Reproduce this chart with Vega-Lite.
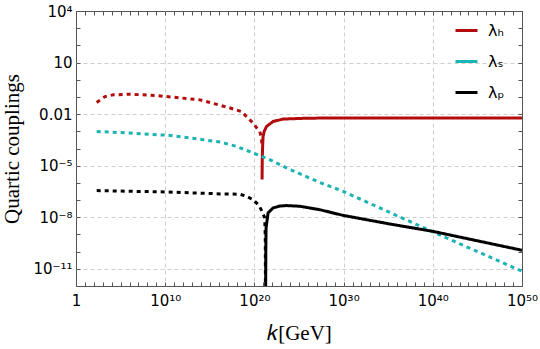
{
  "$schema": "https://vega.github.io/schema/vega-lite/v6.json",
  "width": 446,
  "height": 275,
  "autosize": {"type": "none"},
  "padding": {"left": 76, "top": 11, "right": 18, "bottom": 63},
  "background": "white",
  "config": {
    "view": {"stroke": "#555555", "strokeWidth": 1},
    "axis": {
      "domain": false,
      "tickColor": "#555555",
      "tickSize": -4,
      "tickWidth": 1,
      "labelFont": "DejaVu Sans",
      "labelFontSize": 15,
      "labelColor": "#000000",
      "labelOverlap": false,
      "labelFlush": false,
      "titleFont": "Liberation Serif",
      "titleFontSize": 21,
      "titleFontWeight": "normal",
      "titleColor": "#000000",
      "gridColor": "#cfcfcf",
      "gridDash": [4, 3],
      "gridWidth": 1
    }
  },
  "data": {
    "values": [
      {"series": "H", "seg": "Hd", "style": "dash", "k": 2.09e2, "v": 0.0479},
      {"series": "H", "seg": "Hd", "style": "dash", "k": 1.78e3, "v": 0.105},
      {"series": "H", "seg": "Hd", "style": "dash", "k": 1.51e4, "v": 0.132},
      {"series": "H", "seg": "Hd", "style": "dash", "k": 1.12e6, "v": 0.145},
      {"series": "H", "seg": "Hd", "style": "dash", "k": 1.10e9, "v": 0.120},
      {"series": "H", "seg": "Hd", "style": "dash", "k": 7.94e13, "v": 0.0676},
      {"series": "H", "seg": "Hd", "style": "dash", "k": 1.58e17, "v": 0.0234},
      {"series": "H", "seg": "Hd", "style": "dash", "k": 3.63e18, "v": 0.0141},
      {"series": "H", "seg": "Hd", "style": "dash", "k": 1.41e19, "v": 6.92e-3},
      {"series": "H", "seg": "Hd", "style": "dash", "k": 7.08e19, "v": 3.02e-3},
      {"series": "H", "seg": "Hd", "style": "dash", "k": 2.57e20, "v": 1.23e-3},
      {"series": "H", "seg": "Hd", "style": "dash", "k": 3.98e20, "v": 9.77e-4},
      {"series": "H", "seg": "Hd", "style": "dash", "k": 6.31e20, "v": 4.07e-4},
      {"series": "H", "seg": "Hd", "style": "dash", "k": 6.92e20, "v": 1.45e-4},
      {"series": "H", "seg": "Hs", "style": "solid", "k": 7.24e20, "v": 1.55e-6},
      {"series": "H", "seg": "Hs", "style": "solid", "k": 7.41e20, "v": 5.89e-6},
      {"series": "H", "seg": "Hs", "style": "solid", "k": 7.59e20, "v": 2.24e-5},
      {"series": "H", "seg": "Hs", "style": "solid", "k": 8.32e20, "v": 1.26e-4},
      {"series": "H", "seg": "Hs", "style": "solid", "k": 9.33e20, "v": 5.01e-4},
      {"series": "H", "seg": "Hs", "style": "solid", "k": 1.26e21, "v": 1.0e-3},
      {"series": "H", "seg": "Hs", "style": "solid", "k": 2.29e21, "v": 1.91e-3},
      {"series": "H", "seg": "Hs", "style": "solid", "k": 1.23e22, "v": 3.72e-3},
      {"series": "H", "seg": "Hs", "style": "solid", "k": 1.62e23, "v": 5.13e-3},
      {"series": "H", "seg": "Hs", "style": "solid", "k": 1.20e25, "v": 5.62e-3},
      {"series": "H", "seg": "Hs", "style": "solid", "k": 2.0e27, "v": 5.89e-3},
      {"series": "H", "seg": "Hs", "style": "solid", "k": 1e35, "v": 5.89e-3},
      {"series": "H", "seg": "Hs", "style": "solid", "k": 1e50, "v": 5.89e-3},
      {"series": "S", "seg": "S", "style": "dash", "k": 2.09e2, "v": 9.77e-4},
      {"series": "S", "seg": "S", "style": "dash", "k": 1.12e6, "v": 7.94e-4},
      {"series": "S", "seg": "S", "style": "dash", "k": 3.39e10, "v": 5.75e-4},
      {"series": "S", "seg": "S", "style": "dash", "k": 1.82e14, "v": 3.24e-4},
      {"series": "S", "seg": "S", "style": "dash", "k": 1.35e16, "v": 2.40e-4},
      {"series": "S", "seg": "S", "style": "dash", "k": 1e18, "v": 1.32e-4},
      {"series": "S", "seg": "S", "style": "dash", "k": 7.08e19, "v": 5.50e-5},
      {"series": "S", "seg": "S", "style": "dash", "k": 5.25e21, "v": 2.24e-5},
      {"series": "S", "seg": "S", "style": "dash", "k": 3.98e23, "v": 7.41e-6},
      {"series": "S", "seg": "S", "style": "dash", "k": 2.0e27, "v": 1.07e-6},
      {"series": "S", "seg": "S", "style": "dash", "k": 8.51e29, "v": 3.24e-7},
      {"series": "S", "seg": "S", "style": "dash", "k": 1e40, "v": 1.41e-9},
      {"series": "S", "seg": "S", "style": "dash", "k": 1e50, "v": 7.24e-12},
      {"series": "p", "seg": "pd", "style": "dash", "k": 2.09e2, "v": 3.55e-7},
      {"series": "p", "seg": "pd", "style": "dash", "k": 2.19e10, "v": 2.95e-7},
      {"series": "p", "seg": "pd", "style": "dash", "k": 1.35e16, "v": 2.29e-7},
      {"series": "p", "seg": "pd", "style": "dash", "k": 2.34e18, "v": 2.19e-7},
      {"series": "p", "seg": "pd", "style": "dash", "k": 1.32e19, "v": 1.66e-7},
      {"series": "p", "seg": "pd", "style": "dash", "k": 7.08e19, "v": 1.05e-7},
      {"series": "p", "seg": "pd", "style": "dash", "k": 3.16e20, "v": 5.01e-8},
      {"series": "p", "seg": "pd", "style": "dash", "k": 6.31e20, "v": 2.51e-8},
      {"series": "p", "seg": "pd", "style": "dash", "k": 1.45e21, "v": 9.12e-9},
      {"series": "p", "seg": "pd", "style": "dash", "k": 1.66e21, "v": 5.01e-10},
      {"series": "p", "seg": "pd", "style": "dash", "k": 1.74e21, "v": 3.16e-13},
      {"series": "p", "seg": "ps", "style": "solid", "k": 1.82e21, "v": 3.16e-13},
      {"series": "p", "seg": "ps", "style": "solid", "k": 1.91e21, "v": 1.32e-10},
      {"series": "p", "seg": "ps", "style": "solid", "k": 2.04e21, "v": 2.40e-9},
      {"series": "p", "seg": "ps", "style": "solid", "k": 3.39e21, "v": 1.78e-8},
      {"series": "p", "seg": "ps", "style": "solid", "k": 1.23e22, "v": 3.47e-8},
      {"series": "p", "seg": "ps", "style": "solid", "k": 6.92e22, "v": 4.47e-8},
      {"series": "p", "seg": "ps", "style": "solid", "k": 3.98e23, "v": 4.79e-8},
      {"series": "p", "seg": "ps", "style": "solid", "k": 1.20e25, "v": 4.37e-8},
      {"series": "p", "seg": "ps", "style": "solid", "k": 2.09e27, "v": 2.75e-8},
      {"series": "p", "seg": "ps", "style": "solid", "k": 8.51e29, "v": 1.29e-8},
      {"series": "p", "seg": "ps", "style": "solid", "k": 1.45e35, "v": 4.07e-9},
      {"series": "p", "seg": "ps", "style": "solid", "k": 1.02e40, "v": 1.51e-9},
      {"series": "p", "seg": "ps", "style": "solid", "k": 1e50, "v": 1.20e-10}
    ]
  },
  "resolve": {"axis": {"x": "independent", "y": "independent"}},
  "layer": [
    {
      "mark": {"type": "line", "strokeWidth": 3, "clip": true},
      "encoding": {
        "x": {
          "field": "k", "type": "quantitative",
          "scale": {"type": "log", "domain": [1, 1e50], "nice": false},
          "axis": {
            "orient": "bottom",
            "title": "𝑘[GeV]",
            "titlePadding": 14,
            "labelPadding": 11,
            "labelBaseline": "top",
            "values": [1,1e1,1e2,1e3,1e4,1e5,1e6,1e7,1e8,1e9,1e10,1e11,1e12,1e13,1e14,1e15,1e16,1e17,1e18,1e19,1e20,1e21,1e22,1e23,1e24,1e25,1e26,1e27,1e28,1e29,1e30,1e31,1e32,1e33,1e34,1e35,1e36,1e37,1e38,1e39,1e40,1e41,1e42,1e43,1e44,1e45,1e46,1e47,1e48,1e49,1e50],
            "labelExpr": "datum.value == 1 ? '1' : datum.value == 1e10 ? '10¹⁰' : datum.value == 1e20 ? '10²⁰' : datum.value == 1e30 ? '10³⁰' : datum.value == 1e40 ? '10⁴⁰' : datum.value == 1e50 ? '10⁵⁰' : ''",
            "grid": true,
            "gridOpacity": {"condition": {"test": "datum.value == 1e10 || datum.value == 1e20 || datum.value == 1e30 || datum.value == 1e40", "value": 1}, "value": 0}
          }
        },
        "y": {
          "field": "v", "type": "quantitative",
          "scale": {"type": "log", "domain": [1e-12, 1e4], "nice": false},
          "axis": {
            "orient": "left",
            "title": "Quartic couplings",
            "titlePadding": 10,
            "labelPadding": 8,
            "values": [1e-12,1e-11,1e-10,1e-9,1e-8,1e-7,1e-6,1e-5,1e-4,1e-3,1e-2,1e-1,1,1e1,1e2,1e3,1e4],
            "labelExpr": "datum.value == 1e4 ? '10⁴' : datum.value == 10 ? '10' : datum.value == 0.01 ? '0.01' : datum.value == 1e-5 ? '10⁻⁵' : datum.value == 1e-8 ? '10⁻⁸' : datum.value == 1e-11 ? '10⁻¹¹' : ''",
            "grid": true,
            "gridOpacity": {"condition": {"test": "datum.value == 10 || datum.value == 0.01 || datum.value == 1e-5 || datum.value == 1e-8 || datum.value == 1e-11", "value": 1}, "value": 0}
          }
        },
        "color": {
          "field": "series", "type": "nominal",
          "scale": {"domain": ["H", "S", "p"], "range": ["#b20c0c", "#1cb3b3", "#000000"]},
          "legend": {
            "orient": "none",
            "legendX": 378,
            "legendY": 7,
            "title": null,
            "padding": 0,
            "symbolType": "stroke",
            "symbolSize": 484,
            "symbolStrokeWidth": 3,
            "rowPadding": 10,
            "labelOffset": 9,
            "labelFont": "DejaVu Sans",
            "labelFontSize": 16,
            "labelColor": "#000000",
            "labelExpr": "datum.label == 'H' ? 'λₕ' : datum.label == 'S' ? 'λₛ' : 'λₚ'"
          }
        },
        "strokeDash": {
          "field": "style", "type": "nominal",
          "scale": {"domain": ["dash", "solid"], "range": [[4, 4], [1, 0]]},
          "legend": null
        },
        "detail": {"field": "seg", "type": "nominal"}
      }
    },
    {
      "mark": {"type": "line", "strokeOpacity": 0, "clip": true},
      "encoding": {
        "x": {
          "field": "k", "type": "quantitative",
          "axis": {
            "orient": "top", "title": null, "labels": false, "grid": false,
            "values": [1,1e1,1e2,1e3,1e4,1e5,1e6,1e7,1e8,1e9,1e10,1e11,1e12,1e13,1e14,1e15,1e16,1e17,1e18,1e19,1e20,1e21,1e22,1e23,1e24,1e25,1e26,1e27,1e28,1e29,1e30,1e31,1e32,1e33,1e34,1e35,1e36,1e37,1e38,1e39,1e40,1e41,1e42,1e43,1e44,1e45,1e46,1e47,1e48,1e49,1e50]
          }
        },
        "y": {
          "field": "v", "type": "quantitative",
          "axis": {
            "orient": "right", "title": null, "labels": false, "grid": false,
            "values": [1e-12,1e-11,1e-10,1e-9,1e-8,1e-7,1e-6,1e-5,1e-4,1e-3,1e-2,1e-1,1,1e1,1e2,1e3,1e4]
          }
        },
        "detail": {"field": "seg", "type": "nominal"}
      }
    }
  ]
}
